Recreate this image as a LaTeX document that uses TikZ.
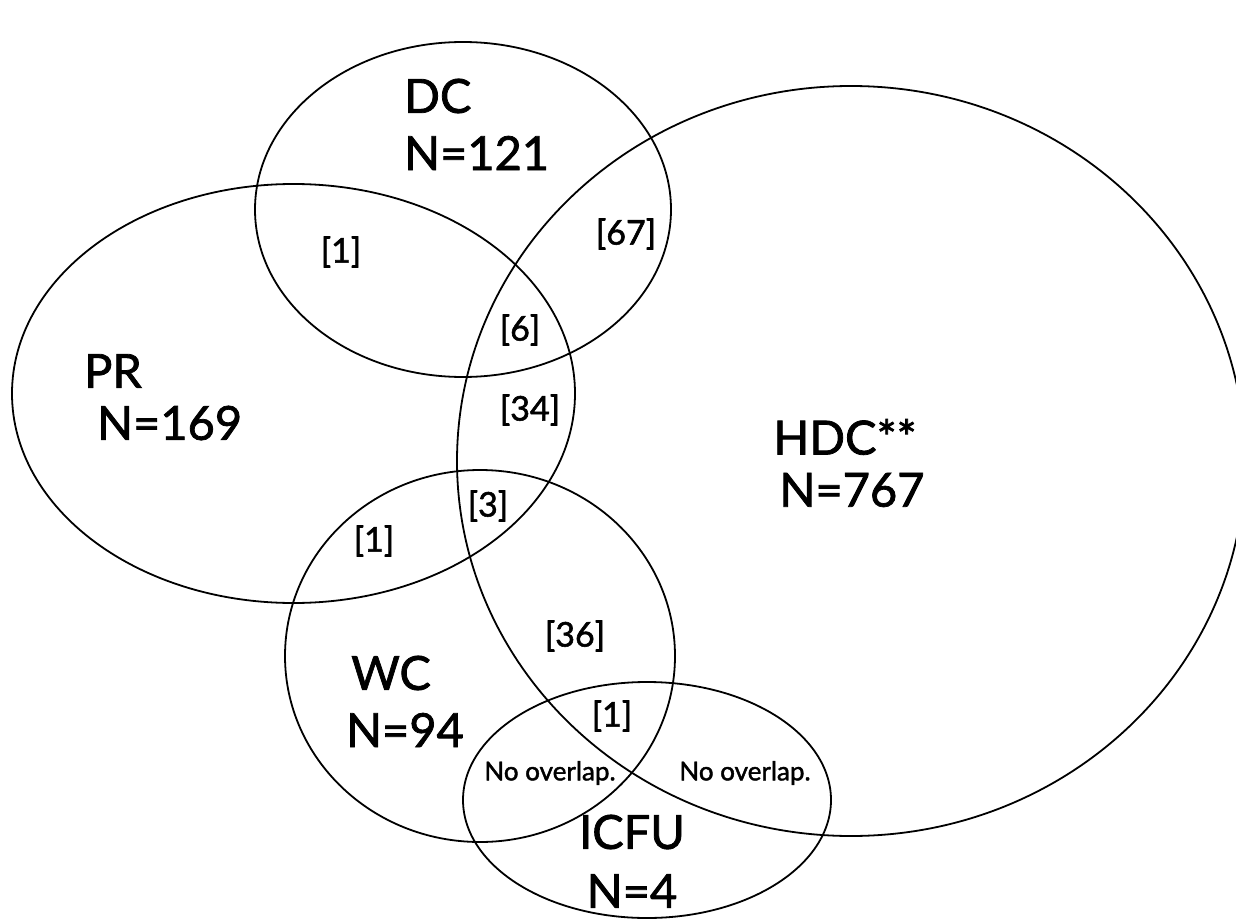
\documentclass[tikz,border=0pt]{standalone}
\usepackage{fontspec}
\setmainfont{Lato}[FakeBold=1.6]
\usetikzlibrary{shapes.geometric}
\begin{document}
\begin{tikzpicture}[x=1pt,y=-1pt,
  venn/.style={draw=black,line width=1.8pt,ellipse,inner sep=0pt},
  big/.style={font=\fontsize{47}{54}\selectfont,inner sep=0pt,align=left},
  cnt/.style={font=\fontsize{34}{40}\selectfont,inner sep=0pt},
  note/.style={font=\fontsize{26}{30}\selectfont,inner sep=0pt}]
\useasboundingbox (0,0) rectangle (1236,920);
\fill[white] (0,0) rectangle (1236,920);
\node[venn,minimum width=416pt,minimum height=335pt] (dc) at (463,209.5) {};
\node[venn,minimum width=788pt,minimum height=750pt] (hdc) at (851,461) {};
\node[venn,minimum width=563pt,minimum height=419pt] (pr) at (293.5,393.5) {};
\node[venn,minimum width=390pt,minimum height=372pt] (wc) at (480,656) {};
\node[venn,minimum width=368pt,minimum height=236pt] (icfu) at (647,800) {};
% main labels
\node[big,anchor=west] (dct) at (404,96) {DC};
\node[big,anchor=west] (dcn) at (404,153) {N=121};
\node[big,anchor=west] (prt) at (84,371) {PR};
\node[big,anchor=west] (prn) at (97,423) {N=169};
\node[big] (hdct) at (845,437) {HDC**};
\node[big] (hdcn) at (852,490) {N=767};
\node[big] (wct) at (391,673) {WC};
\node[big] (wcn) at (405,730) {N=94};
\node[big] (icfut) at (632,832) {ICFU};
\node[big] (icfun) at (632,891) {N=4};
% counts
\node[cnt] (c67) at (626,234) {[67]};
\node[cnt] (c1a) at (341,252) {[1]};
\node[cnt] (c6) at (520,330) {[6]};
\node[cnt] (c34) at (530,410) {[34]};
\node[cnt] (c3) at (488,506) {[3]};
\node[cnt] (c1b) at (374,541) {[1]};
\node[cnt] (c36) at (575,636) {[36]};
\node[cnt] (c1c) at (612,716) {[1]};
\node[note] (no1) at (550,773) {No overlap.};
\node[note] (no2) at (745,773) {No overlap.};
\end{tikzpicture}
\end{document}
